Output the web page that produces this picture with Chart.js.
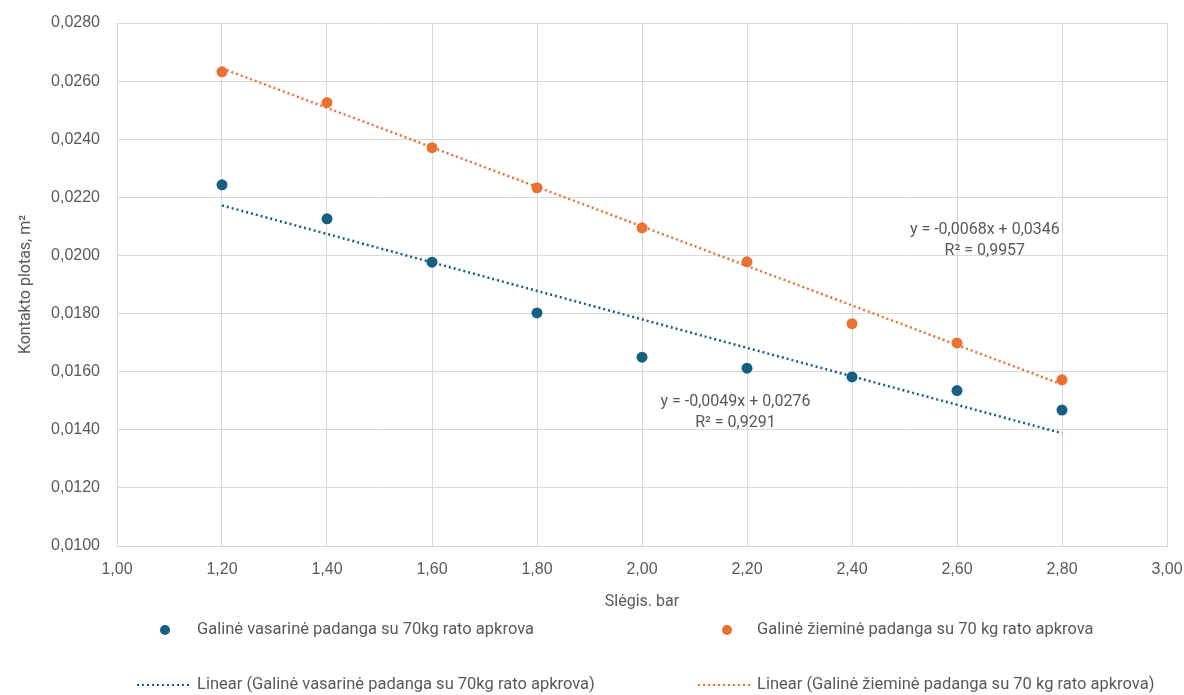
<!DOCTYPE html>
<html lang="lt">
<head>
<meta charset="utf-8">
<title>Kontakto plotas</title>
<script src="https://cdn.jsdelivr.net/npm/chart.js@4.4.1/dist/chart.umd.min.js"></script>
<style>
  html, body { margin: 0; padding: 0; background: #ffffff; }
  #wrap { position: relative; width: 1184px; height: 695px; }
</style>
</head>
<body>
<div id="wrap"><canvas id="plotas"></canvas></div>
<script>
// --- DUOMENYS ---
const pressure = [1.20, 1.40, 1.60, 1.80, 2.00, 2.20, 2.40, 2.60, 2.80];
const summerArea = [0.02243, 0.02126, 0.01977, 0.01802, 0.01650, 0.01612, 0.01582, 0.01535, 0.01468];
const winterArea = [0.02632, 0.02526, 0.02371, 0.02233, 0.02095, 0.01978, 0.01765, 0.01699, 0.01572];
const seriesNames = [
    'Galinė vasarinė padanga su 70kg rato apkrova',
    'Galinė žieminė padanga su 70 kg rato apkrova'
];
const trendNames = [
    'Linear (Galinė vasarinė padanga su 70kg rato apkrova)',
    'Linear (Galinė žieminė padanga su 70 kg rato apkrova)'
];
// tiesinės tendencijos: y = a*x + b
const trendSlope = [-0.0049, -0.0068];
const trendIntercept = [0.0276, 0.0346];
const trendR2 = [0.9291, 0.9957];
const trendRange = [1.2, 2.8];
// lygčių užrašų vieta (x, y ašių vienetais)
const eqAnchors = [[2.178, 0.01497], [2.653, 0.02088]];

const xTitle = 'Slėgis. bar';
const yTitle = 'Kontakto plotas, m²';

const BLUE = '#156082';
const ORANGE = '#E97132';
const TEXT = '#595959';
const GRID = '#d9d9d9';
const colors = [BLUE, ORANGE];

const fmt = (v, d) => v.toFixed(d).replace('.', ',');

function trendPoints(i) {
    return trendRange.map(x => ({ x: x, y: trendSlope[i] * x + trendIntercept[i] }));
}

// legendos išdėstymas apačioje
const legendItems = [
    { kind: 'dot', series: 0, text: seriesNames[0], mx: 165, tx: 197, y: 630 },
    { kind: 'dot', series: 1, text: seriesNames[1], mx: 727, tx: 757, y: 630 },
    { kind: 'line', series: 0, text: trendNames[0], x1: 137, x2: 191, tx: 197, y: 685 },
    { kind: 'line', series: 1, text: trendNames[1], x1: 698, x2: 753, tx: 757, y: 685 }
];

const extras = {
    id: 'extras',
    afterDatasetsDraw(chart) {
        const ctx = chart.ctx;
        const xs = chart.scales.x, ys = chart.scales.y;
        ctx.save();
        ctx.fillStyle = TEXT;
        ctx.font = '16px Roboto';
        ctx.textAlign = 'center';
        ctx.textBaseline = 'middle';
        eqAnchors.forEach((a, i) => {
            const px = xs.getPixelForValue(a[0]);
            const py = ys.getPixelForValue(a[1]);
            ctx.fillText('y = ' + fmt(trendSlope[i], 4) + 'x + ' + fmt(trendIntercept[i], 4), px, py);
            ctx.fillText('R² = ' + fmt(trendR2[i], 4), px, py + 21);
        });
        ctx.restore();
    },
    afterDraw(chart) {
        const ctx = chart.ctx;
        ctx.save();
        ctx.font = '16.5px Roboto';
        ctx.textBaseline = 'middle';
        ctx.textAlign = 'left';
        legendItems.forEach(it => {
            const c = colors[it.series];
            if (it.kind === 'dot') {
                ctx.fillStyle = c;
                ctx.beginPath();
                ctx.arc(it.mx, it.y, 5, 0, Math.PI * 2);
                ctx.fill();
            } else {
                ctx.strokeStyle = c;
                ctx.lineWidth = 2;
                ctx.setLineDash([2, 3]);
                ctx.beginPath();
                ctx.moveTo(it.x1, it.y);
                ctx.lineTo(it.x2, it.y);
                ctx.stroke();
                ctx.setLineDash([]);
            }
            ctx.fillStyle = TEXT;
            ctx.fillText(it.text, it.tx, it.y);
        });
        ctx.restore();
    }
};

const ctx = document.getElementById('plotas').getContext('2d');
new Chart(ctx, {
    type: 'scatter',
    data: {
        datasets: [
            {
                label: trendNames[0],
                type: 'line',
                data: trendPoints(0),
                borderColor: BLUE,
                borderWidth: 2.5,
                borderDash: [2, 3],
                pointRadius: 0,
                fill: false,
                order: 1
            },
            {
                label: trendNames[1],
                type: 'line',
                data: trendPoints(1),
                borderColor: ORANGE,
                borderWidth: 2.5,
                borderDash: [2, 3],
                pointRadius: 0,
                fill: false,
                order: 1
            },
            {
                label: seriesNames[0],
                data: pressure.map((p, i) => ({ x: p, y: summerArea[i] })),
                backgroundColor: BLUE,
                borderColor: BLUE,
                pointRadius: 5.5,
                pointBorderWidth: 0,
                order: 2
            },
            {
                label: seriesNames[1],
                data: pressure.map((p, i) => ({ x: p, y: winterArea[i] })),
                backgroundColor: ORANGE,
                borderColor: ORANGE,
                pointRadius: 5.5,
                pointBorderWidth: 0,
                order: 2
            }
        ]
    },
    options: {
        responsive: true,
        maintainAspectRatio: false,
        animation: false,
        layout: { padding: { left: 0, right: 17, top: 23, bottom: 79 } },
        plugins: {
            legend: { display: false },
            tooltip: { enabled: false }
        },
        scales: {
            x: {
                type: 'linear',
                min: 1,
                max: 3,
                afterFit: s => {
                    s.height = 70;
                    s.paddingLeft = 0;
                    s.paddingRight = 0;
                },
                grid: { color: GRID, drawTicks: false },
                border: { color: GRID },
                ticks: {
                    stepSize: 0.2,
                    padding: 14,
                    color: TEXT,
                    font: { family: 'Liberation Sans', size: 16 },
                    callback: v => fmt(v, 2)
                },
                title: {
                    display: true,
                    text: xTitle,
                    color: TEXT,
                    font: { family: 'Roboto', size: 16 },
                    padding: { top: 4, bottom: 4 }
                }
            },
            y: {
                min: 0.01,
                max: 0.028,
                afterFit: s => {
                    s.width = 117;
                    s.paddingTop = 0;
                    s.paddingBottom = 0;
                },
                grid: { color: GRID, drawTicks: false },
                border: { color: GRID },
                ticks: {
                    stepSize: 0.002,
                    padding: 17,
                    color: TEXT,
                    font: { family: 'Liberation Sans', size: 16 },
                    callback: v => fmt(v, 4)
                },
                title: {
                    display: true,
                    text: yTitle,
                    color: TEXT,
                    font: { family: 'Roboto', size: 16 },
                    padding: { top: 16, bottom: 4 }
                }
            }
        }
    },
    plugins: [extras]
});
</script>
</body>
</html>
